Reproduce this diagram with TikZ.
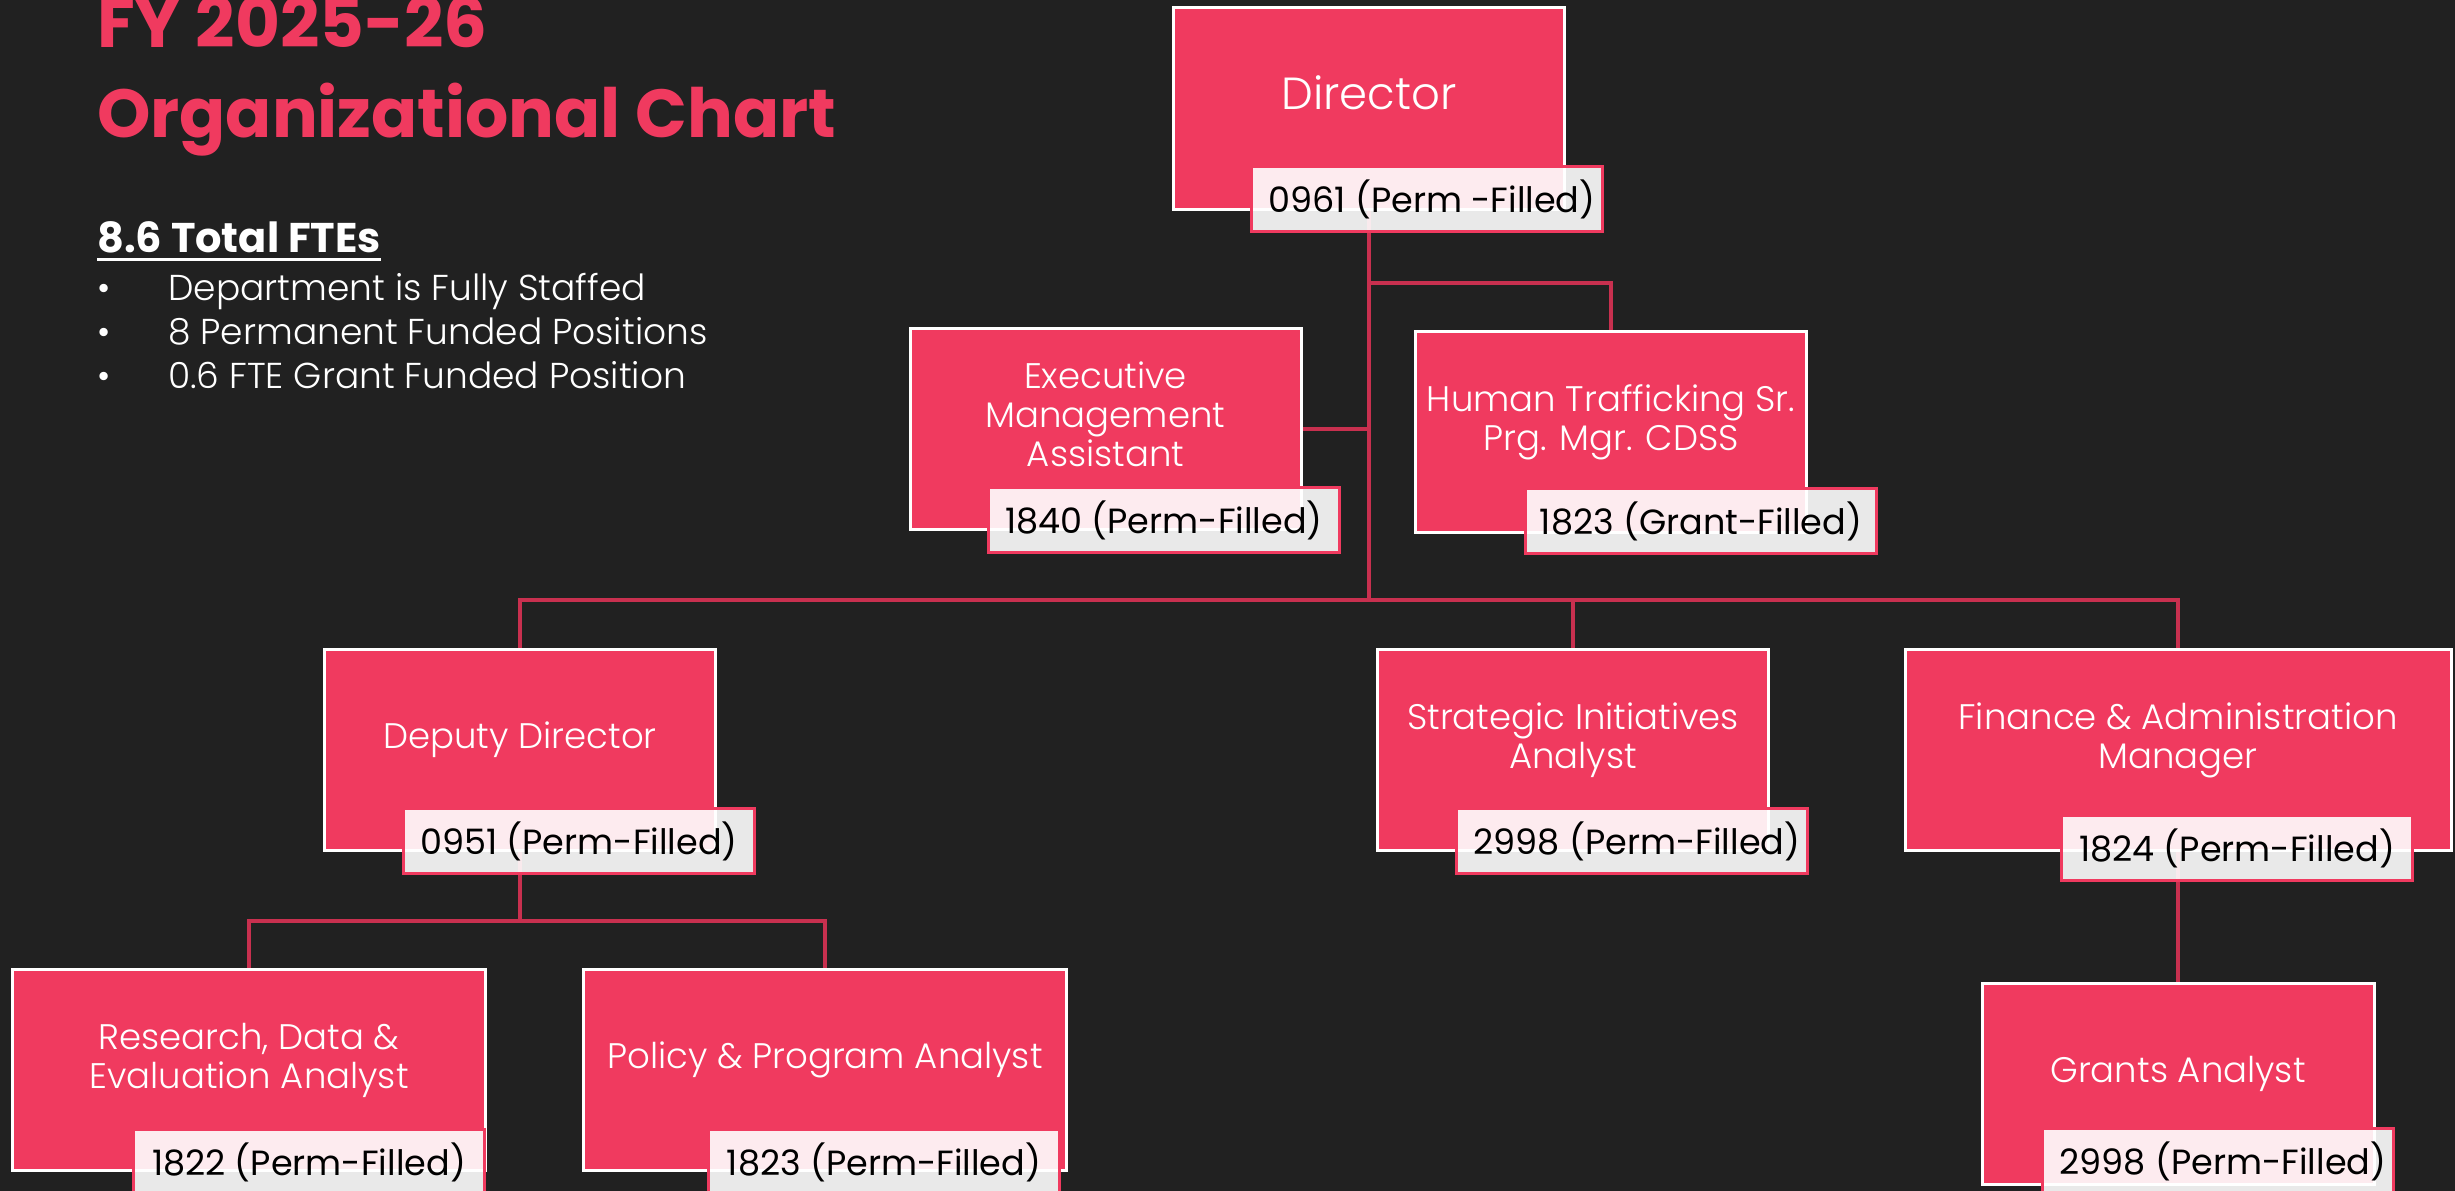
\documentclass[tikz,border=0pt]{standalone}
\usepackage{fontspec}
\setmainfont{Poppins}
\newfontfamily\thinfont{Poppins Light}
\usetikzlibrary{backgrounds}
\definecolor{bg}{HTML}{212121}
\definecolor{boxred}{HTML}{F03A5F}
\definecolor{linkred}{HTML}{C8304F}

\newcommand\roletext[1]{\raisebox{3pt}[0pt][0pt]{\begin{tabular}{@{}c@{}}#1\end{tabular}}}

\begin{document}
\begin{tikzpicture}[
  x = 1pt,
  y = -1pt,
  role/.style = {
    draw = white,
    line width = 3pt,
    fill = boxred,
    text = white,
    inner sep = 0pt,
    minimum width = 391pt,
    minimum height = 201pt,
    font = \thinfont\fontsize{35.5}{39}\selectfont,
  },
  tag/.style = {
    draw = boxred,
    line width = 3pt,
    fill = white,
    fill opacity = 0.9,
    text opacity = 1,
    text = black,
    inner sep = 0pt,
    minimum width = 351pt,
    minimum height = 65pt,
    anchor = north west,
    font = \fontsize{35}{40}\selectfont,
  },
  link/.style = {
    draw = linkred,
    line width = 4pt,
  },
  title/.style = {
    anchor = base west,
    inner sep = 0pt,
    text = boxred,
    font = \bfseries\fontsize{68}{80}\selectfont,
  },
  note/.style = {
    anchor = base west,
    inner sep = 0pt,
    text = white,
    font = \thinfont\fontsize{36}{40}\selectfont,
  },
]

  \useasboundingbox (0,0) rectangle (2455,1191);

  % heading
  \node[title,font=\bfseries\fontsize{69}{80}\selectfont] (fy) at (97,47) {FY 2025-26};
  \node[title] (org) at (97,137) {Organizational Chart};

  \node[note,font=\bfseries\fontsize{41.5}{44}\selectfont] (fte) at (97,252) {8.6 Total FTEs};
  \draw[white,line width=3pt] ([yshift=-7pt]fte.base west) -- ([yshift=-7pt]fte.base east);

  \node[note] (b1) at (97,300) {\makebox[71pt][l]{\textbullet}Department is Fully Staffed};
  \node[note] (b2) at (97,344) {\makebox[71pt][l]{\textbullet}8 Permanent Funded Positions};
  \node[note] (b3) at (97,388) {\makebox[71pt][l]{\textbullet}0.6 FTE Grant Funded Position};

  % positions
  \node[role,minimum height=202pt,font=\thinfont\fontsize{45}{48}\selectfont] (dir) at (1369,108.5) {\roletext{Director}};
  \node[role] (ema) at (1105.5,428.5) {\roletext{Executive\\Management\\Assistant}};
  \node[role] (ht) at (1611,432) {\roletext{Human Trafficking Sr.\\Prg. Mgr. CDSS}};

  \node[role] (dep) at (520,750) {\roletext{Deputy Director}};
  \node[role] (sia) at (1573,750) {\roletext{Strategic Initiatives\\Analyst}};
  \node[role,minimum width=546pt] (fam) at (2178,750) {\roletext{Finance \& Administration\\Manager}};

  \node[role,minimum width=473pt] (rde) at (249,1070) {\roletext{Research, Data \&\\Evaluation Analyst}};
  \node[role,minimum width=483pt] (ppa) at (825,1070) {\roletext{Policy \& Program Analyst}};
  \node[role,minimum width=392pt] (gra) at (2178,1084) {\roletext{Grants Analyst}};

  % position numbers
  \node[tag] (dirT) at (1250,165) {\hspace*{10pt}0961 (Perm -Filled)};
  \node[tag] (emaT) at (987,486) {1840 (Perm-Filled)};
  \node[tag] (htT) at (1524,487) {1823 (Grant-Filled)};
  \node[tag] (depT) at (402,807) {0951 (Perm-Filled)};
  \node[tag] (siaT) at (1455,807) {\hspace*{10pt}2998 (Perm-Filled)};
  \node[tag] (famT) at (2060,814) {1824 (Perm-Filled)};
  \node[tag] (rdeT) at (132,1128) {1822 (Perm-Filled)};
  \node[tag] (ppaT) at (707,1128) {1823 (Perm-Filled)};
  \node[tag] (graT) at (2041,1127) {\hspace*{10pt}2998 (Perm-Filled)};

  \coordinate (htbar) at (1369,283);
  \coordinate (bar) at (1369,600);
  \coordinate (depbar) at (520,921);

  \begin{scope}[on background layer]
    \fill[bg] (0,0) rectangle (2455,1191);

    \draw[link] (dir.center) -- (bar);
    \draw[link] (htbar) -| (ht.center);
    \draw[link] (ema.center) -- (ema.center -| dir.center);
    \draw[link] (dep.center) |- (bar) -| (fam.center);
    \draw[link] (sia.center) -- (sia.center |- bar);
    \draw[link] (dep.center) -- (depbar);
    \draw[link] (rde.center) |- (depbar) -| (ppa.center);
    \draw[link] (fam.center) -- (gra.center);
  \end{scope}

\end{tikzpicture}
\end{document}
